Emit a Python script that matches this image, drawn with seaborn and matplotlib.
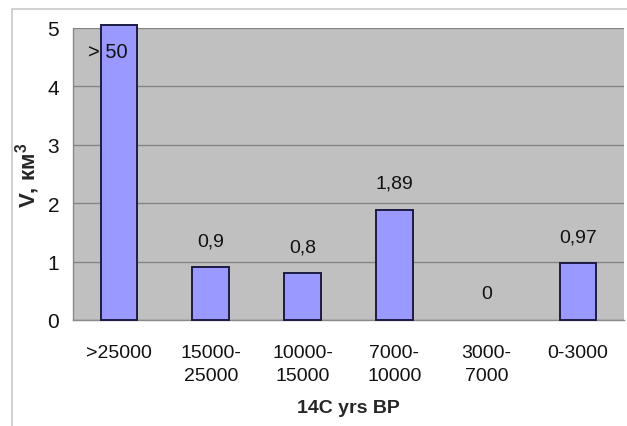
import matplotlib
matplotlib.use("Agg")
import matplotlib.pyplot as plt
import seaborn as sns
import numpy as np
import pandas as pd
from matplotlib.patches import Rectangle
from matplotlib.ticker import FixedLocator

categories = [">25000", "15000-\n25000", "10000-\n15000", "7000-\n10000", "3000-\n7000", "0-3000"]
values = [50, 0.9, 0.8, 1.89, 0, 0.97]
value_labels = ["> 50", "0,9", "0,8", "1,89", "0", "0,97"]
y_ticks = [0, 1, 2, 3, 4, 5]
x_title = "14C yrs BP"
y_title = "V, км$^3$"

sns.set_style("white")
plt.rcParams["font.family"] = ["Liberation Sans", "DejaVu Sans"]
plt.rcParams["mathtext.default"] = "regular"

fig = plt.figure(figsize=(6.27, 4.27), dpi=100)
ax = fig.add_axes([73 / 627, 1 - 321 / 427, (624 - 73) / 627, (321 - 29) / 427])

y_top = 5.0
disp = np.minimum(values, y_top + 0.05)
df = pd.DataFrame({"cat": categories, "v": disp})
sns.barplot(data=df, x="cat", y="v", color="#9999FF", saturation=1,
            edgecolor="#1c1c44", linewidth=1.4, width=0.4, ax=ax, zorder=3)
for p in ax.patches:
    p.set_clip_on(False)
    if p.get_height() == 0:
        p.set_visible(False)

ax.set_facecolor("#c0c0c0")
ax.set_ylim(0, y_top)
ax.set_xlim(-0.5, len(categories) - 0.5)
ax.set_yticks(y_ticks)
ax.yaxis.grid(True, color="#858585", linewidth=1.0, zorder=1)
ax.set_axisbelow(True)

for s in ["top", "right"]:
    ax.spines[s].set_visible(False)
for s in ["left", "bottom"]:
    ax.spines[s].set_color("#8a8a8a")
    ax.spines[s].set_linewidth(1.0)

ax.tick_params(axis="y", direction="out", length=5, width=1, color="#8a8a8a",
               labelsize=15, pad=5, labelcolor="#111111")
ax.tick_params(axis="x", which="major", length=0, labelsize=14, pad=17,
               labelcolor="#111111")
ax.xaxis.set_minor_locator(FixedLocator(np.arange(-0.5, len(categories), 1.0)))
ax.tick_params(axis="x", which="minor", direction="out", length=5, width=1, color="#b0b0b0")
for lbl in ax.get_xticklabels():
    lbl.set_linespacing(1.5)

ax.set_xlabel(x_title, fontsize=14, fontweight="bold", labelpad=11)
ax.set_ylabel(y_title, fontsize=16, fontweight="bold", labelpad=4)

for i, (v, lab) in enumerate(zip(values, value_labels)):
    if v > y_top:
        ax.annotate(lab, xy=(i, 4.6), xytext=(-8, 0), textcoords="offset points",
                    ha="center", va="center", fontsize=14.5, color="#111111")
    else:
        ax.annotate(lab, xy=(i, v), xytext=(0, 19), textcoords="offset points",
                    ha="center", va="center", fontsize=14, color="#111111")

fig.patches.append(Rectangle((12 / 627, -0.1), 1.2, 1 - 10 / 427 + 0.1,
                             transform=fig.transFigure, fill=False,
                             edgecolor="#c8c8c8", linewidth=1.2, zorder=0))

fig.savefig("out.png", dpi=100)
